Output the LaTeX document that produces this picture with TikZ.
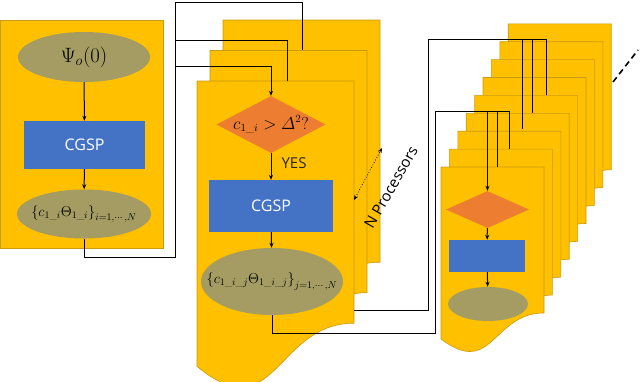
\documentclass[tikz,border=0pt]{standalone}
\usepackage{amsmath}
\usepackage{fontspec}
\newfontfamily\uifont{Open Sans}
\usetikzlibrary{shapes.geometric,arrows.meta}

\definecolor{pagegold}{HTML}{FFC000}
\definecolor{pageedge}{HTML}{C89B10}
\definecolor{boxblue}{HTML}{4472C4}
\definecolor{diaorange}{HTML}{ED7D31}
\definecolor{olivefill}{HTML}{A49C63}

\tikzset{
  page/.style={fill=pagegold, draw=pageedge, line width=0.6pt},
  blob/.style={ellipse, fill=olivefill, inner sep=0pt},
  cgsp/.style={rectangle, fill=boxblue, inner sep=0pt, text=white,
    font=\uifont\fontsize{16}{18}\selectfont},
  decide/.style={diamond, fill=diaorange, inner sep=0pt},
  link/.style={line width=1pt},
  mathbig/.style={font=\fontsize{14}{16}\selectfont},
}

% document shape: left x, top y, width, height
\newcommand{\docpage}[4]{%
  \filldraw[page] (#1,#2) -- ({#1+#3},#2) -- ({#1+#3},{#2+0.802*#4})
    .. controls ({#1+0.5*#3},{#2+0.802*#4}) and ({#1+0.5*#3},{#2+1.16*#4})
    .. (#1,{#2+0.945*#4}) -- cycle;}

\begin{document}
\begin{tikzpicture}[x=1pt,y=-1pt,>={Stealth[length=5pt,width=4pt]}]
\useasboundingbox (0,0) rectangle (640,381);

% initial step
\filldraw[page] (0.5,20) rectangle (163,248);
\node[blob, minimum width=132pt, minimum height=50pt,
  label={[font=\fontsize{20}{22}\selectfont]center:$\Psi_o(0)$}] (psi) at (84,57) {};
\node[cgsp, minimum width=121pt, minimum height=48pt] (cgspA) at (84.5,145) {CGSP};
\node[blob, minimum width=134pt, minimum height=49pt,
  label={[mathbig]center:$\left\{c_{1\_i}\Theta_{1\_i}\right\}_{i=1,\cdots,N}$}] (coefA) at (84,214) {};
\draw[link,->] (psi) -- (cgspA);
\draw[link,->] (cgspA) -- (coefA);

% N processors, second step
\foreach \i in {2,1,0}
  \docpage{197+13*\i}{81-30.5*\i}{157}{302};

\node[decide, minimum width=109pt, minimum height=57pt,
  label={[font=\fontsize{16}{18}\selectfont]center:$c_{1\_i}>\varDelta^2?$}] (dia) at (271,124.5) {};
\node[font=\uifont\fontsize{15}{17}\selectfont, text=black!85] (yes) at (294,163) {YES};
\node[cgsp, minimum width=124pt, minimum height=52pt] (cgspB) at (271,206) {CGSP};
\node[blob, minimum width=142pt, minimum height=67pt,
  label={[mathbig]center:$\left\{c_{1\_i\_j}\Theta_{1\_i\_j}\right\}_{j=1,\cdots,N}$}] (coefB) at (272,281.5) {};
\draw[link,->] (dia) -- (cgspB);
\draw[link,->] (cgspB) -- (coefB);

\coordinate (procA) at (354,200);
\coordinate (procB) at (382,148);
\draw[<->, dotted, thick] (procA) -- (procB);
\node[rotate=60, font=\uifont\fontsize{15}{17}\selectfont] (nproc) at (391,187) {N Processors};

% N^2 processors, third step
\foreach \i in {8,7,...,0}
  \docpage{441+8.4*\i}{167-17.9*\i}{103}{182};

\node[decide, minimum width=83pt, minimum height=37pt] (diaR) at (487.5,209.5) {};
\node[cgsp, minimum width=76pt, minimum height=32pt] (cgspR) at (487,256) {};
\node[blob, minimum width=80pt, minimum height=34pt] (coefR) at (488,304) {};
\draw[link,->] (diaR) -- (cgspR);
\draw[link,->] (cgspR) -- (coefR);

\coordinate (moreA) at (613,82);
\coordinate (moreB) at (638,50);
\draw[line width=1.6pt, dash pattern=on 6pt off 4pt] (moreA) -- (moreB);

% connections
\coordinate (busL) at (175,2);
\coordinate (inFront) at (287,81);
\coordinate (inMid) at (302,50);
\draw[link] (coefA.south) -- ++(0,19) -| (busL) -| (inMid);
\draw[link] (175,40) -| (inFront);
\draw[link,->] (175,66) -| (dia.north);

\coordinate (busB) at (435,111);
\coordinate (busC) at (428,39);
\coordinate (outMid) at (354,310);
\coordinate (inR1) at (497,167);
\coordinate (inR2) at (509,149);
\coordinate (inR3) at (522,129);
\coordinate (inR4) at (532,113);
\coordinate (inR5) at (546,95);
\draw[link] (coefB.south) -- ++(0,18) -| (busB) -| (inR2);
\draw[link] (busB) -| (inR1);
\draw[link,->] (busB) -| (diaR.north);
\draw[link] (outMid) -| (busC) -| (inR5);
\draw[link] (busC) -| (inR4);
\draw[link] (busC) -| (inR3);
\end{tikzpicture}
\end{document}
